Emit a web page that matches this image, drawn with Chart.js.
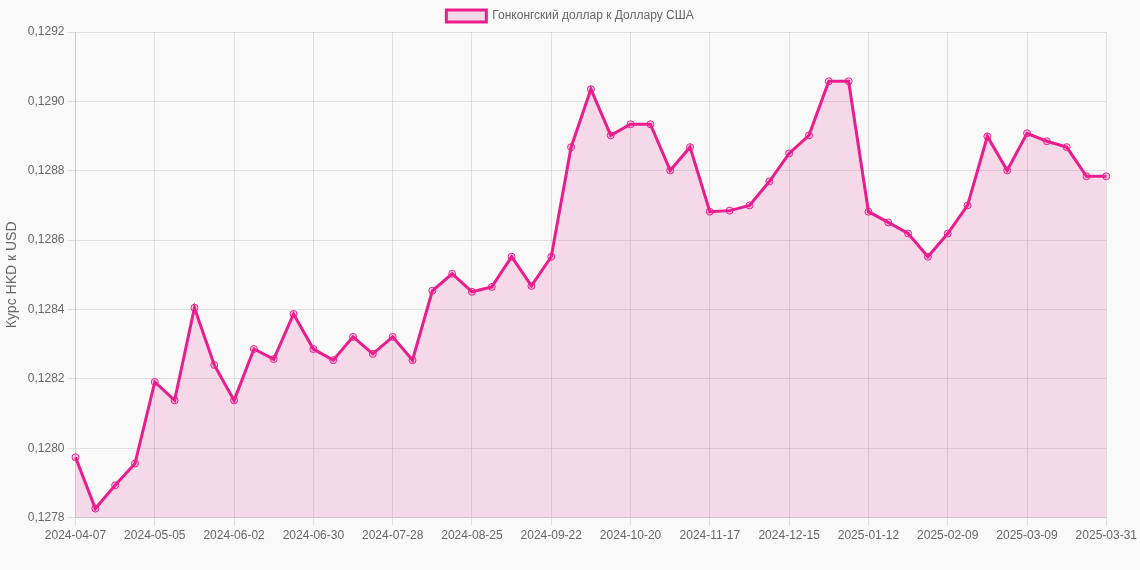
<!DOCTYPE html>
<html>
<head>
<meta charset="utf-8">
<script src="https://cdn.jsdelivr.net/npm/chart.js@4.4.0/dist/chart.umd.min.js"></script>
<style>
  html, body { margin: 0; padding: 0; background: #f9f9f9; }
  #wrap { width: 1140px; height: 570px; }
</style>
</head>
<body>
<div id="wrap"><canvas id="myChart"></canvas></div>
<script>
// weekly dates (the last one is 2025-03-31)
let labels = [
  "2024-04-07","2024-04-14","2024-04-21","2024-04-28","2024-05-05","2024-05-12","2024-05-19","2024-05-26",
  "2024-06-02","2024-06-09","2024-06-16","2024-06-23","2024-06-30","2024-07-07","2024-07-14","2024-07-21",
  "2024-07-28","2024-08-04","2024-08-11","2024-08-18","2024-08-25","2024-09-01","2024-09-08","2024-09-15",
  "2024-09-22","2024-09-29","2024-10-06","2024-10-13","2024-10-20","2024-10-27","2024-11-03","2024-11-10",
  "2024-11-17","2024-11-24","2024-12-01","2024-12-08","2024-12-15","2024-12-22","2024-12-29","2025-01-05",
  "2025-01-12","2025-01-19","2025-01-26","2025-02-02","2025-02-09","2025-02-16","2025-02-23","2025-03-02",
  "2025-03-09","2025-03-16","2025-03-23","2025-03-30","2025-03-31"
];

let kurs = [
  0.127974, 0.127826, 0.127893, 0.127956, 0.128191, 0.128138, 0.128405, 0.128240,
  0.128138, 0.128286, 0.128257, 0.128387, 0.128286, 0.128254, 0.128321, 0.128272,
  0.128321, 0.128254, 0.128454, 0.128503, 0.128451, 0.128465, 0.128552, 0.128468,
  0.128552, 0.128868, 0.129035, 0.128902, 0.128934, 0.128934, 0.128801, 0.128868,
  0.128682, 0.128685, 0.128700, 0.128769, 0.128850, 0.128902, 0.129058, 0.129058,
  0.128682, 0.128651, 0.128619, 0.128552, 0.128619, 0.128700, 0.128899, 0.128801,
  0.128908, 0.128885, 0.128868, 0.128784, 0.128784
];

let yMin = 0.1278;
let yMax = 0.1292;
let yStep = 0.0002;

let serieNom = "Гонконгский доллар к Доллару США";
let ejeY = "Курс HKD к USD";

let linea = "rgb(233, 30, 140)";
let relleno = "rgba(233, 30, 140, 0.14)";

Chart.defaults.font.family = "'Liberation Sans', Arial, sans-serif";
Chart.defaults.color = "#666";

const ctx = document.getElementById('myChart');
new Chart(ctx, {
  type: 'line',
  data: {
    labels: labels,
    datasets: [{
      label: serieNom,
      data: kurs,
      borderColor: linea,
      backgroundColor: relleno,
      borderWidth: 3,
      fill: true,
      tension: 0,
      pointRadius: 3.5,
      pointBorderWidth: 1,
      pointBackgroundColor: "rgba(233, 30, 140, 0.2)",
      pointBorderColor: linea
    }]
  },
  options: {
    responsive: true,
    maintainAspectRatio: false,
    animation: false,
    layout: { padding: { bottom: 24 } },
    plugins: {
      legend: {
        labels: { boxWidth: 40, boxHeight: 12, font: { size: 12 } }
      },
      tooltip: { enabled: false }
    },
    scales: {
      x: {
        ticks: { maxRotation: 0, autoSkip: true, font: { size: 12 } },
        grid: { color: 'rgba(0,0,0,0.1)' }
      },
      y: {
        min: yMin,
        max: yMax,
        ticks: {
          stepSize: yStep,
          font: { size: 12 },
          callback: (v) => v.toFixed(4).replace('.', ',')
        },
        title: { display: true, text: ejeY, font: { size: 14 } },
        grid: { color: 'rgba(0,0,0,0.1)' }
      }
    }
  }
});
</script>
</body>
</html>
